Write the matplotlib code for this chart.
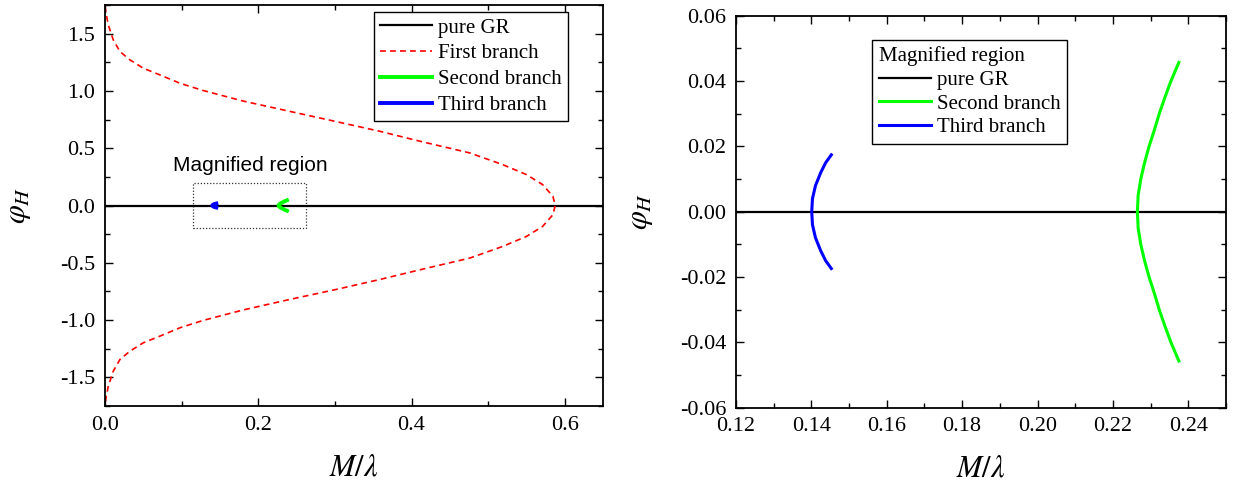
import numpy as np
import matplotlib
matplotlib.use("Agg")
import matplotlib.pyplot as plt
from matplotlib.patches import Rectangle
from matplotlib.ticker import MultipleLocator

plt.rcParams["font.family"] = ["Liberation Serif", "DejaVu Serif"]
plt.rcParams["mathtext.fontset"] = "stix"
plt.rcParams["axes.unicode_minus"] = False

# ---- data ----
# first branch (red dashed), upper half then lower half
x_first_up = [0.0, 0.0013, 0.0043, 0.0108, 0.0196, 0.0326, 0.050, 0.0717, 0.0978,
              0.128, 0.180, 0.241, 0.300, 0.3585, 0.411, 0.476, 0.519, 0.550,
              0.571, 0.5845, 0.5876]
phi_first_up = [1.74, 1.678, 1.576, 1.445, 1.343, 1.271, 1.198, 1.14, 1.067,
                1.004, 0.912, 0.822, 0.735, 0.648, 0.561, 0.459, 0.357, 0.27,
                0.183, 0.081, 0.0]
x_first_lo = [0.5876, 0.5845, 0.571, 0.550, 0.519, 0.476, 0.411, 0.3585, 0.300,
              0.241, 0.180, 0.128, 0.0978, 0.0717, 0.050, 0.0326, 0.0196, 0.0108,
              0.0043, 0.0013, 0.0]
phi_first_lo = [0.0, -0.081, -0.183, -0.27, -0.357, -0.459, -0.561, -0.646, -0.735,
                -0.82, -0.912, -1.003, -1.067, -1.14, -1.198, -1.271, -1.343, -1.445,
                -1.576, -1.678, -1.74]

# second branch (green)
x_second = [0.2375, 0.2354, 0.2338, 0.2323, 0.2310, 0.2296, 0.2284, 0.2274, 0.2267, 0.2265,
            0.2267, 0.2274, 0.2284, 0.2296, 0.2310, 0.2323, 0.2338, 0.2354, 0.2375]
phi_second = [0.0457, 0.040, 0.035, 0.030, 0.025, 0.020, 0.015, 0.010, 0.005, 0.0,
              -0.005, -0.010, -0.015, -0.020, -0.025, -0.030, -0.035, -0.040, -0.0457]

# third branch (blue)
x_third = [0.1453, 0.1438, 0.1425, 0.1411, 0.1403, 0.1401,
           0.1403, 0.1411, 0.1425, 0.1438, 0.1453]
phi_third = [0.0174, 0.015, 0.012, 0.008, 0.004, 0.0,
             -0.004, -0.008, -0.012, -0.015, -0.0174]

# pure GR
x_gr_left = [0.0, 0.65]
x_gr_right = [0.12, 0.25]
phi_gr = [0.0, 0.0]

# magnified box
box_x = [0.115, 0.262]
box_y = [-0.2, 0.2]

fig = plt.figure(figsize=(12.34, 4.87), dpi=100)
ax1 = fig.add_axes([0.0851, 0.1663, 0.4036, 0.8234])
ax2 = fig.add_axes([0.5964, 0.1628, 0.3971, 0.805])


def style_axes(ax):
    ax.tick_params(which="both", direction="in", top=True, right=True,
                   labelsize=16, width=1.0)
    ax.tick_params(which="major", length=6, pad=7)
    ax.tick_params(which="minor", length=3.5)
    for s in ax.spines.values():
        s.set_linewidth(1.3)


# ---- left panel ----
ax1.plot(x_gr_left, phi_gr, color="black", lw=1.6, label="pure GR")
ax1.plot(x_first_up + x_first_lo[1:], phi_first_up + phi_first_lo[1:],
         color="red", lw=1.2, ls=(0, (3.5, 2.5)), label="First branch")
ax1.plot(x_second, phi_second, color="#00ff00", lw=2.8, label="Second branch")
ax1.plot(x_third, phi_third, color="blue", lw=2.8, label="Third branch")
ax1.add_patch(Rectangle((box_x[0], box_y[0]), box_x[1] - box_x[0], box_y[1] - box_y[0],
                        fill=False, ls=(0, (1, 1.5)), lw=0.9, color="#333333"))
ax1.text(0.189, 0.35, "Magnified region", family=["Liberation Sans", "DejaVu Sans"],
         fontsize=15, ha="center", va="center")
ax1.set_xlim(0, 0.65)
ax1.set_ylim(-1.75, 1.75)
ax1.xaxis.set_major_locator(MultipleLocator(0.2))
ax1.xaxis.set_minor_locator(MultipleLocator(0.1))
ax1.yaxis.set_major_locator(MultipleLocator(0.5))
ax1.yaxis.set_minor_locator(MultipleLocator(0.25))
style_axes(ax1)
ax1.set_xlabel(r"$M/\lambda$", fontsize=22)
ax1.set_ylabel(r"$\varphi_H$", fontsize=22)
ax1.xaxis.set_label_coords(0.5, -0.118)
ax1.yaxis.set_label_coords(-0.145, 0.5)
leg1 = ax1.legend(loc="upper right", bbox_to_anchor=(0.930, 0.983), fontsize=15,
                  handlelength=2.5, handletextpad=0.3, borderpad=0.3, labelspacing=0.3,
                  fancybox=False, framealpha=1, edgecolor="black", borderaxespad=0)
leg1.get_frame().set_linewidth(1.0)

# ---- right panel ----
ax2.plot(x_gr_right, phi_gr, color="black", lw=1.6, label="pure GR")
ax2.plot(x_second, phi_second, color="#00ff00", lw=2.2, label="Second branch")
ax2.plot(x_third, phi_third, color="blue", lw=2.2, label="Third branch")
ax2.set_xlim(0.12, 0.25)
ax2.set_ylim(-0.06, 0.06)
ax2.xaxis.set_major_locator(MultipleLocator(0.02))
ax2.xaxis.set_minor_locator(MultipleLocator(0.01))
ax2.yaxis.set_major_locator(MultipleLocator(0.02))
ax2.yaxis.set_minor_locator(MultipleLocator(0.01))
ax2.xaxis.set_major_formatter(lambda v, p: f"{v:.2f}")
ax2.yaxis.set_major_formatter(lambda v, p: f"{v:.2f}")
style_axes(ax2)
ax2.set_xlabel(r"$M/\lambda$", fontsize=22)
ax2.set_ylabel(r"$\varphi_H$", fontsize=22)
ax2.xaxis.set_label_coords(0.5, -0.12)
ax2.yaxis.set_label_coords(-0.165, 0.5)
leg2 = ax2.legend(loc="upper left", bbox_to_anchor=(0.2786, 0.938), fontsize=15,
                  title="Magnified region", title_fontsize=15, alignment="left",
                  handlelength=2.5, handletextpad=0.3, borderpad=0.3, labelspacing=0.2,
                  fancybox=False, framealpha=1, edgecolor="black", borderaxespad=0)
leg2.get_frame().set_linewidth(1.0)

fig.savefig("out.png", dpi=100)
